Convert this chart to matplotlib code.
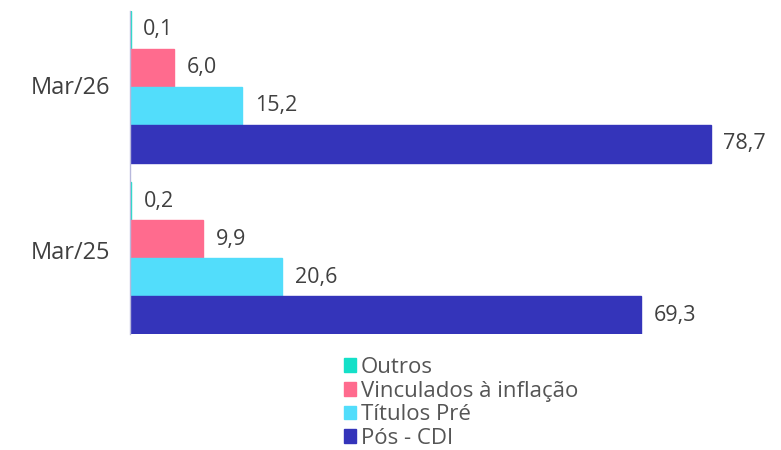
import numpy as np
import matplotlib.pyplot as plt

plt.rcParams['font.family'] = ['Open Sans', 'DejaVu Sans']

periods = ['Mar/26', 'Mar/25']
series = ['Outros', 'Vinculados à inflação', 'Títulos Pré', 'Pós - CDI']
values = {
    'Mar/26': [0.1, 6.0, 15.2, 78.7],
    'Mar/25': [0.2, 9.9, 20.6, 69.3],
}
colors = ['#14E0C8', '#FF6B8E', '#52DDFB', '#3434BA']

fig = plt.figure(figsize=(7.81, 4.5), dpi=100)
ax = fig.add_axes([130 / 781, 1 - 334 / 450, 651 / 781, 323 / 450])

group_start = [0.0, 4.5]
for g, period in enumerate(periods):
    for i, name in enumerate(series):
        y = group_start[g] + i + 0.5
        v = values[period][i]
        ax.barh(y, v, height=1.0, color=colors[i], edgecolor=colors[i],
                linewidth=1.0, label=name if g == 0 else None)
        ax.annotate(f'{v:.1f}'.replace('.', ','), (v, y),
                    xytext=(9, 0), textcoords='offset points',
                    va='center', ha='left', fontsize=15.5, color='#404040')

ax.set_xlim(0, 651 / 7.38)
ax.set_ylim(8.5, 0)
ax.set_yticks([1.95, 6.3])
ax.set_yticklabels(periods, fontsize=17, color='#404040')
ax.tick_params(axis='y', length=0, pad=14)
ax.set_xticks([])
for s in ['top', 'right', 'bottom']:
    ax.spines[s].set_visible(False)
ax.spines['left'].set_color('#B8B8DC')
ax.spines['left'].set_linewidth(1)

fig.legend(loc='upper center', bbox_to_anchor=(0.59, 1 - 346 / 450),
           frameon=False, fontsize=16, handlelength=0.57, handleheight=0.57,
           handletextpad=0.2, labelspacing=0.12, borderpad=0,
           labelcolor='#555555')

fig.savefig('out.png', dpi=100)
